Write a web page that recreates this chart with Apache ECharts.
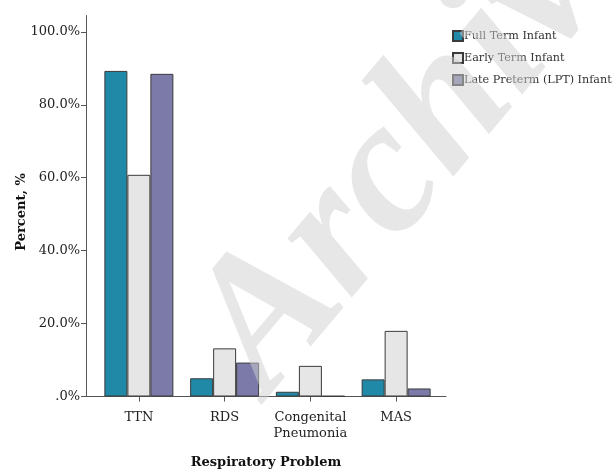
<!DOCTYPE html>
<html><head><meta charset="utf-8">
<script src="https://cdn.jsdelivr.net/npm/echarts@6/dist/echarts.min.js"></script>
<style>html,body{margin:0;padding:0;background:#fff}#c{width:616px;height:472px}</style>
</head><body><div id="c"></div>
<script>
var categories = ['TTN', 'RDS', 'Congenital\nPneumonia', 'MAS'];
var seriesNames = ['Full Term Infant', 'Early Term Infant', 'Late Preterm (LPT) Infant'];
var fullTerm = [89.3, 5.0, 1.3, 4.7];
var earlyTerm = [60.8, 13.2, 8.4, 18.0];
var latePreterm = [88.5, 9.3, 0.15, 2.2];
var yTicks = [0, 20, 40, 60, 80, 100];
var colors = ['#2189a8', '#e6e6e6', '#7b7aa8'];

var FONT = 'DejaVu Serif';
var chart = echarts.init(document.getElementById('c'), null, {renderer: 'canvas'});
var yMax = 104.5;
function mk(name, data, color) {
  return {
    type: 'bar', name: name, data: data, xAxisIndex: 0, yAxisIndex: 0,
    barWidth: 23, barGap: '0%',
    itemStyle: {color: color, borderColor: '#3a3a3a', borderWidth: 1},
    emphasis: {disabled: true}
  };
}
chart.setOption({
  animation: false,
  backgroundColor: '#fff',
  grid: [
    {left: 96, right: 177, top: 15.5, bottom: 75.5, outerBoundsMode: 'none', containLabel: false},
    {left: 86, right: 170, top: 15.5, bottom: 75.5, outerBoundsMode: 'none', containLabel: false}
  ],
  legend: {
    orient: 'vertical', left: 452, top: 29, padding: 0, itemWidth: 10, itemHeight: 10, itemGap: 8,
    icon: 'rect', data: seriesNames,
    textStyle: {fontFamily: FONT, fontSize: 11.2, color: '#333', padding: [0, 0, 0, -4], lineHeight: 14}
  },
  xAxis: [
    {type: 'category', gridIndex: 0, data: categories,
     axisLine: {show: false},
     axisTick: {show: true, alignWithLabel: true, length: 5, lineStyle: {color: '#555'}},
     axisLabel: {interval: 0, fontFamily: FONT, fontSize: 13, color: '#222', margin: 13, lineHeight: 16}},
    {type: 'value', gridIndex: 1, min: 0, max: 1,
     axisLine: {show: true, lineStyle: {color: '#555', width: 1}},
     axisTick: {show: false}, axisLabel: {show: false}, splitLine: {show: false},
     name: 'Respiratory Problem', nameLocation: 'middle', nameGap: 60, nameMoveOverlap: false,
     nameTextStyle: {fontFamily: FONT, fontSize: 13, fontWeight: 'bold', color: '#111'}}
  ],
  yAxis: [
    {type: 'value', gridIndex: 0, min: 0, max: yMax, show: false},
    {type: 'value', gridIndex: 1, min: 0, max: yMax, interval: 20,
     axisLine: {show: true, lineStyle: {color: '#555', width: 1}},
     axisTick: {show: true, length: 5, customValues: yTicks, lineStyle: {color: '#555'}},
     axisLabel: {customValues: yTicks, margin: 6, fontFamily: FONT, fontSize: 13, color: '#222',
       formatter: function (v) { return v === 0 ? '.0%' : v.toFixed(1) + '%'; }},
     splitLine: {show: false},
     name: 'Percent, %', nameLocation: 'middle', nameGap: 58, nameRotate: 90, nameMoveOverlap: false,
     nameTextStyle: {fontFamily: FONT, fontSize: 13, fontWeight: 'bold', color: '#111', padding: [0, 12, 0, 0]}}
  ],
  series: [
    mk(seriesNames[0], fullTerm, colors[0]),
    mk(seriesNames[1], earlyTerm, colors[1]),
    mk(seriesNames[2], latePreterm, colors[2])
  ],
  graphic: [{
    type: 'text', z: 100, silent: true, x: 303, y: 427, rotation: 50 * Math.PI / 180,
    style: {text: 'Archive', fontStyle: 'italic', fontWeight: 'bold', fontSize: 190,
      fontFamily: 'Liberation Serif', verticalAlign: 'bottom',
      fill: 'rgba(208,208,208,0.5)'}
  }]
});
</script></body></html>
